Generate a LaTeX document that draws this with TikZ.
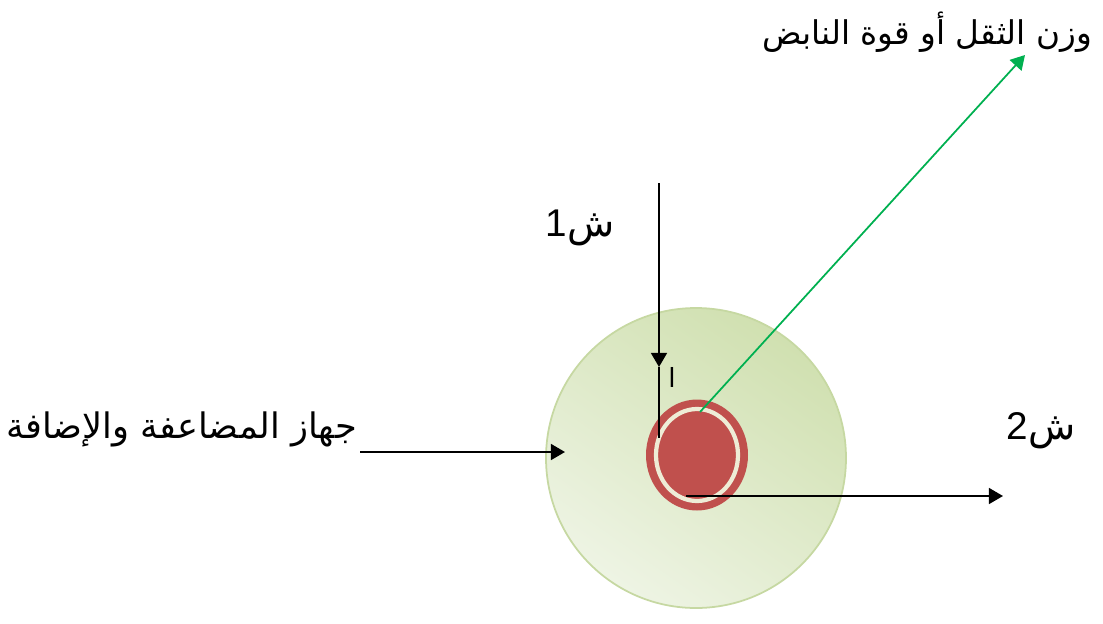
\documentclass[tikz,border=0pt]{standalone}
\usepackage{fontspec}
\setmainfont{Liberation Sans}
\newfontfamily\arabicfont[Script=Arabic]{DejaVu Sans}
\TeXXeTstate=1
\usetikzlibrary{positioning,arrows.meta,shapes.geometric}

\definecolor{discgreen}{HTML}{D0E0B0}
\definecolor{disclight}{HTML}{EEF4E4}
\definecolor{discedge}{HTML}{C6D8A2}
\definecolor{hubred}{HTML}{C0504D}
\definecolor{hubcream}{HTML}{EEECD6}
\definecolor{forcegreen}{HTML}{00B050}

\begin{document}
\begin{tikzpicture}[
  x=0.02cm, y=-0.02cm,
  lbl/.style={inner sep=1pt, font=\fontsize{20}{24}\selectfont\arabicfont},
  arr/.style={line width=1.2pt, -{Triangle[length=8pt,width=9pt]}},
  seg/.style={line width=1.2pt}]
\useasboundingbox (0,0) rectangle (1103,623);
% disc and hub
\node[circle, minimum size=300*0.02cm, draw=discedge, line width=1pt,
  top color=discgreen, bottom color=disclight, shading angle=-35] (disc) at (696,458) {};
\node[ellipse, minimum width=102*0.02cm, minimum height=111*0.02cm, fill=hubred, inner sep=0pt] (hub) at (697,455) {};
\node[ellipse, minimum width=82*0.02cm, minimum height=92*0.02cm, draw=hubcream, line width=2.4pt, fill=hubred, inner sep=0pt] (core) at (697,455) {};
% labels
\node[lbl, anchor=east, font=\fontsize{18.6}{22}\selectfont\arabicfont] (load) at (1094,32) {\beginR وزن الثقل أو قوة النابض\endR};
\node[lbl, anchor=east] (device) at (359,429) {\beginR جهاز المضاعفة والإضافة\endR};
\node[lbl, font=\fontsize{22}{26}\selectfont\arabicfont] (s1) at (580,228) {\beginR ش\normalfont 1\endR};
\node[lbl, font=\fontsize{22}{26}\selectfont\arabicfont] (s2) at (1041,431) {\beginR ش\normalfont 2\endR};
\node[lbl, font=\fontsize{15}{18}\selectfont\arabicfont] (alif) at (672,377) {\beginR ا\endR};
% free ends
\coordinate (s1top) at (659,183);
\coordinate (s1tip) at (659,367);
\coordinate (s1end) at (659,438);
\coordinate (s2start) at (686,496);
\coordinate (s2tip) at (1003,496);
\coordinate (devstart) at (360,452);
\coordinate (devtip) at (565,452);
\coordinate (loadstart) at (700,412);
\coordinate (loadtip) at (1025,55);
% connectors
\draw[arr] (s1top) -- (s1tip);
\draw[seg] (s1tip) -- (s1end);
\draw[arr] (s2start) -- (s2tip);
\draw[arr] (devstart) -- (devtip);
\draw[arr, forcegreen, line width=1pt] (loadstart) -- (loadtip);
\end{tikzpicture}
\end{document}
